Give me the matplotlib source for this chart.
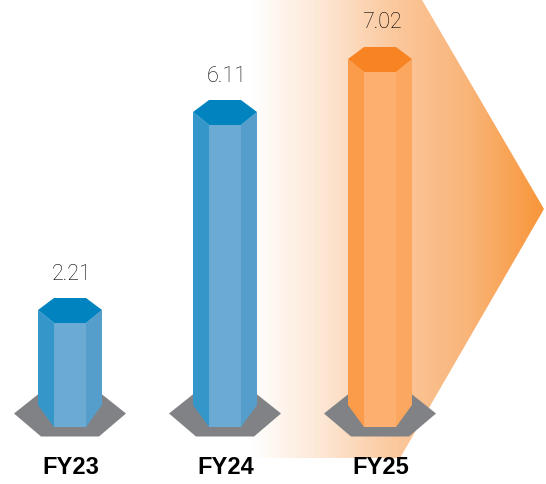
import numpy as np
import matplotlib
matplotlib.use("Agg")
import matplotlib.pyplot as plt
from matplotlib.patches import Polygon
from matplotlib.transforms import IdentityTransform
from matplotlib.colors import LinearSegmentedColormap

categories = ["FY23", "FY24", "FY25"]
values = [2.21, 6.11, 7.02]
value_labels = ["2.21", "6.11", "7.02"]

W, H = 546, 484
fig = plt.figure(figsize=(W / 100, H / 100), dpi=100, facecolor="white")
ax = fig.add_axes([0, 0, 1, 1])
ax.axis("off")

# The artwork is not strictly proportional, so the value axis is calibrated to it
val_knots = np.array([0.0, 2.21, 6.11, 7.02])
top_knots = np.array([57.0, 161.0, 359.0, 412.0])  # pixels above the figure's lower edge


def fwd(v):
    v = np.asarray(v, dtype=float)
    out = np.interp(v, val_knots, top_knots)
    out = out + np.where(v < 0, v * 50, 0) + np.where(v > 7.02, (v - 7.02) * 50, 0)
    return out


def inv(p):
    p = np.asarray(p, dtype=float)
    out = np.interp(p, top_knots, val_knots)
    out = out + np.where(p < top_knots[0], (p - top_knots[0]) / 50, 0)
    out = out + np.where(p > top_knots[-1], (p - top_knots[-1]) / 50, 0)
    return out


ax.set_yscale("function", functions=(fwd, inv))


def set_limits():
    ax.set_xlim(-70 / 155, (W - 70) / 155)
    ax.set_ylim(float(inv(0.0)), float(inv(float(H))))


set_limits()
ident = IdentityTransform()


def poly(pts, color, z):
    p = np.array(pts, dtype=float)
    ax.add_patch(Polygon(np.c_[p[:, 0], H - p[:, 1]], closed=True, transform=ident,
                         facecolor=color, edgecolor="none", zorder=z, clip_on=False))


# Background arrow with a horizontal fade
cmap = LinearSegmentedColormap.from_list(
    "fade", ["#FFFFFF", "#FDE6D3", "#FBC79B", "#F9B478", "#F8963A"], N=256)
grad = np.linspace(0, 1, 300).reshape(1, -1)
bg = ax.imshow(grad, cmap=cmap, transform=ident, extent=(250, 544, H - 458, H),
               aspect="auto", zorder=1, interpolation="bilinear")
arrow_px = np.array([[250, 0], [422, 0], [544, 209], [400, 458], [250, 458]], dtype=float)
clip = Polygon(np.c_[arrow_px[:, 0], H - arrow_px[:, 1]], closed=True, transform=ident,
               facecolor="none", edgecolor="none")
ax.add_patch(clip)
bg.set_clip_path(clip)
set_limits()

blue = dict(left="#3596C9", front="#6AAAD3", right="#559DCB", top="#0083BE")
orange = dict(left="#FB9C4B", front="#FDAF6F", right="#FBA760", top="#F78322")
palette = [blue, blue, orange]
fig.canvas.draw()

for i, (cat, val, lab, c) in enumerate(zip(categories, values, value_labels, palette)):
    cx_d, ty_d = ax.transData.transform((i, val))
    cx, ty = cx_d, H - ty_d   # ty: upper edge of the front face, from the top
    foot = 427
    # base plate
    poly([(cx - 56, 413.5), (cx - 29, 392), (cx + 29, 392), (cx + 56, 413.5),
          (cx + 29, 436.5), (cx - 29, 436.5)], "#808285", 3)
    # column faces
    poly([(cx - 32, ty - 13), (cx - 16, ty), (cx - 16, foot), (cx - 32, foot - 22)], c["left"], 4)
    poly([(cx + 16, ty), (cx + 32, ty - 13), (cx + 32, foot - 22), (cx + 16, foot)], c["right"], 4)
    poly([(cx - 16, ty), (cx + 16, ty), (cx + 16, foot), (cx - 16, foot)], c["front"], 4)
    poly([(cx - 32, ty - 13), (cx - 16, ty), (cx + 16, ty), (cx + 32, ty - 13),
          (cx + 16, ty - 25), (cx - 16, ty - 25)], c["top"], 5)
    ax.text(cx + 1.5, H - (ty - 49), lab, transform=ident, ha="center", va="center",
            fontsize=15.5, family=["Roboto", "DejaVu Sans"], fontweight="light",
            color="#000000", zorder=6)
    ax.text(cx + 0.5, H - 467.5, cat, transform=ident, ha="center", va="center",
            fontsize=17, family=["Liberation Sans", "DejaVu Sans"], fontweight="bold",
            color="#000000", zorder=6)

fig.savefig("out.png", dpi=100, facecolor="white")
